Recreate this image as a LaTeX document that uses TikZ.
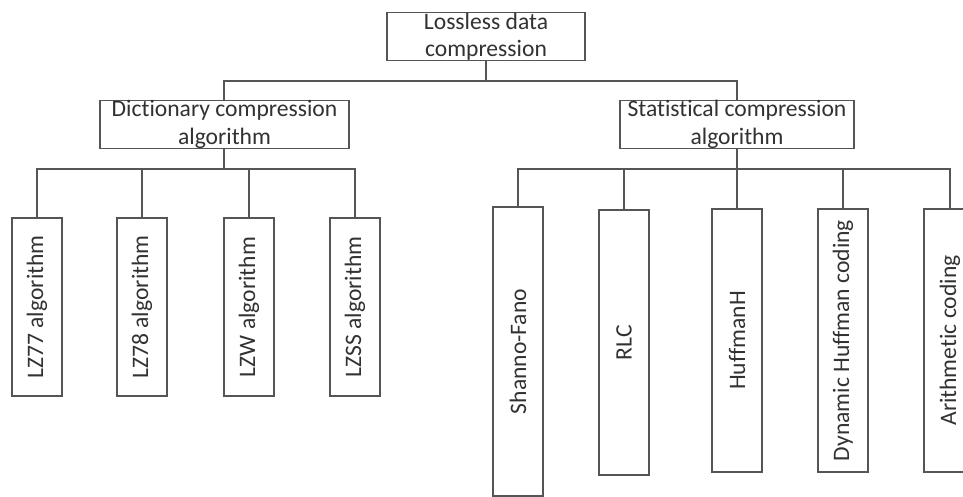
\documentclass[tikz,border=0pt]{standalone}
\usepackage{graphicx}
\usepackage{fontspec}
\setmainfont[Ligatures=NoCommon]{Carlito}
\definecolor{linegray}{RGB}{85,85,85}
\definecolor{textgray}{RGB}{50,50,50}
\tikzset{
  box/.style={draw=linegray, line width=1.6pt, inner sep=0pt, text=textgray,
    font=\fontsize{23.6}{27.5}\selectfont, align=center},
  vbox/.style={box, minimum width=50pt},
  conn/.style={draw=linegray, line width=1.6pt}
}
\begin{document}
\begin{tikzpicture}[x=1pt,y=-1pt]
\useasboundingbox (0,0) rectangle (963,497);
\clip (0,0) rectangle (963,497);
\fill[white] (0,0) rectangle (963,497);
% top
\node[box, minimum width=198pt, minimum height=47pt] (top) at (486,36.5) {Lossless data\\compression};
\node[box, minimum width=249pt, minimum height=47pt] (dict) at (224.5,124.5) {Dictionary compression\\algorithm};
\node[box, minimum width=234pt, minimum height=47pt] (stat) at (737,124.5) {Statistical compression\\algorithm};
% dictionary children
\node[vbox, minimum height=178pt] (lz77) at (37,307) {\rotatebox{90}{LZ77 algorithm}};
\node[vbox, minimum height=178pt] (lz78) at (142,307) {\rotatebox{90}{LZ78 algorithm}};
\node[vbox, minimum height=178pt] (lzw) at (249,307) {\rotatebox{90}{LZW algorithm}};
\node[vbox, minimum height=178pt] (lzss) at (355,307) {\rotatebox{90}{LZSS algorithm}};
% statistical children
\node[vbox, minimum height=289pt] (sf) at (518,351.5) {\rotatebox{90}{Shanno-Fano}};
\node[vbox, minimum height=265pt] (rlc) at (624,342.5) {\rotatebox{90}{RLC}};
\node[vbox, minimum height=263pt] (huff) at (737,340.5) {\rotatebox{90}{HuffmanH}};
\node[vbox, minimum height=263pt] (dyn) at (843,340.5) {\rotatebox{90}{Dynamic Huffman coding}};
\node[vbox, minimum height=263pt, minimum width=52pt] (arith) at (950,340.5) {\rotatebox{90}{Arithmetic coding}};
% junctions
\coordinate (j0) at (486,81);
\coordinate (j1) at (224,169);
\coordinate (j2) at (737,169);
% connectors
\draw[conn] (top.south) -- (j0);
\draw[conn] (j0) -| (dict.north -| j1);
\draw[conn] (j0) -| (stat.north);
\draw[conn] (dict.south -| j1) -- (j1);
\draw[conn] (j1) -| (lz77.north);
\draw[conn] (j1) -| (lz78.north);
\draw[conn] (j1) -| (lzw.north);
\draw[conn] (j1) -| (lzss.north);
\draw[conn] (stat.south) -- (j2);
\draw[conn] (j2) -| (sf.north);
\draw[conn] (j2) -| (rlc.north);
\draw[conn] (j2) -- (huff.north);
\draw[conn] (j2) -| (dyn.north);
\draw[conn] (j2) -| (arith.north);
\end{tikzpicture}
\end{document}
